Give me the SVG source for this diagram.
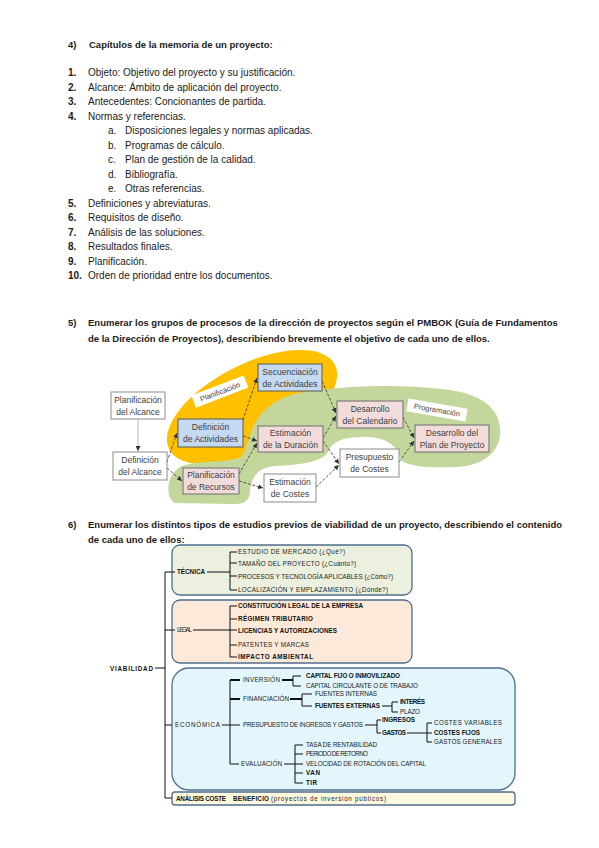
<svg xmlns="http://www.w3.org/2000/svg" width="599" height="848" viewBox="0 0 599 848">
<defs>
<style>
.t{font-family:"Liberation Sans",Arial,sans-serif;font-size:10px;fill:#1a1a1a}
.n{font-family:"Liberation Sans",Arial,sans-serif;font-size:10px;fill:#1a1a1a;font-weight:bold}
.h{font-family:"Liberation Sans",Arial,sans-serif;font-size:9.5px;font-weight:bold;fill:#1a1a1a}
.bl{fill:#c5d9f1;stroke:#595959;stroke-width:1}
.pk{fill:#f2dcdb;stroke:#6f6f6f;stroke-width:1}
.wh{fill:#ffffff;stroke:#8c8c8c;stroke-width:1}
.bt{font-family:"Liberation Sans",Arial,sans-serif;font-size:8.5px;fill:#404040;text-anchor:middle}
.lb{font-family:"Liberation Sans",Arial,sans-serif;font-size:7.5px;fill:#404040;text-anchor:middle}
.ar{fill:none;stroke:#333;stroke-width:0.8;stroke-dasharray:3,1.6;marker-end:url(#ah)}
.tr{font-family:"Liberation Sans",Arial,sans-serif;font-size:6.3px;fill:#222}
.tb{font-family:"Liberation Sans",Arial,sans-serif;font-size:6.3px;fill:#111;font-weight:bold}
.ln{fill:none;stroke:#111;stroke-width:1}
.lk{fill:none;stroke:#111;stroke-width:2}
.card{stroke:#4f6d8f;stroke-width:1.3}
</style>
<marker id="ah" viewBox="0 0 6 6" refX="6" refY="3" markerWidth="5" markerHeight="5" markerUnits="userSpaceOnUse" orient="auto">
<path d="M0,0 L6,3 L0,6 z" fill="#333"/>
</marker>
</defs>
<rect width="599" height="848" fill="#ffffff"/>

<g id="section4">
<text class="h" x="68" y="48">4)</text>
<text class="h" x="89" y="48">Capítulos de la memoria de un proyecto:</text>
<text class="n" x="68" y="76">1.</text><text class="t" x="88" y="76">Objeto: Objetivo del proyecto y su justificación.</text>
<text class="n" x="68" y="90.5">2.</text><text class="t" x="88" y="90.5">Alcance: Ámbito de aplicación del proyecto.</text>
<text class="n" x="68" y="105">3.</text><text class="t" x="88" y="105">Antecedentes: Concionantes de partida.</text>
<text class="n" x="68" y="119.5">4.</text><text class="t" x="88" y="119.5">Normas y referencias.</text>
<text class="t" x="108" y="134">a.</text><text class="t" x="125" y="134">Disposiciones legales y normas aplicadas.</text>
<text class="t" x="108" y="148.5">b.</text><text class="t" x="125" y="148.5">Programas de cálculo.</text>
<text class="t" x="108" y="163">c.</text><text class="t" x="125" y="163">Plan de gestión de la calidad.</text>
<text class="t" x="108" y="177.5">d.</text><text class="t" x="125" y="177.5">Bibliografía.</text>
<text class="t" x="108" y="192">e.</text><text class="t" x="125" y="192">Otras referencias.</text>
<text class="n" x="68" y="206.5">5.</text><text class="t" x="88" y="206.5">Definiciones y abreviaturas.</text>
<text class="n" x="68" y="221">6.</text><text class="t" x="88" y="221">Requisitos de diseño.</text>
<text class="n" x="68" y="235.5">7.</text><text class="t" x="88" y="235.5">Análisis de las soluciones.</text>
<text class="n" x="68" y="250">8.</text><text class="t" x="88" y="250">Resultados finales.</text>
<text class="n" x="68" y="264.5">9.</text><text class="t" x="88" y="264.5">Planificación.</text>
<text class="n" x="68" y="279">10.</text><text class="t" x="88" y="279">Orden de prioridad entre los documentos.</text>
</g>

<g id="section5-heading">
<text class="h" x="68" y="326">5)</text>
<text class="h" x="88" y="326">Enumerar los grupos de procesos de la dirección de proyectos según el PMBOK (Guía de Fundamentos</text>
<text class="h" x="88" y="342">de la Dirección de Proyectos), describiendo brevemente el objetivo de cada uno de ellos.</text>
</g>

<g id="blobs">
<ellipse cx="252" cy="407" rx="93" ry="43" transform="rotate(-27 252 407)" fill="#ffc000"/>
<path d="M175,503 C165,498 166,475 180,467 C195,460 225,463 240,458 C246,452 248,438 254,425 C264,405 285,394 310,391 C345,386 400,383 450,390 C490,396 502,415 500,435 C498,455 480,466 455,467 C430,468 410,467 401,460 C398,445 385,437 365,437 C345,437 333,440 328,452 C322,462 300,465 275,466 C258,467 251,478 250,490 C250,500 245,504 235,504 Z" fill="#c3d69b"/>
<g id="label-planificacion" transform="rotate(-21 220 392)">
<rect x="192" y="385" width="56" height="13" fill="#ffffff"/>
<text class="lb" x="220" y="394.5">Planificación</text>
</g>
<g id="label-programacion" transform="rotate(10 437 410)">
<rect x="407" y="403.5" width="60" height="13" fill="#ffffff"/>
<text class="lb" x="437" y="412.5">Programación</text>
</g>
</g>

<g id="connectors-pmbok">
<path d="M138,419 V451" fill="none" stroke="#999" stroke-width="0.7" marker-end="url(#ah)"/>
<path class="ar" d="M167,462 L177,433"/>
<path class="ar" d="M167,468 L182,481"/>
<path class="ar" d="M243,420 L257,378"/>
<path class="ar" d="M243,436 L257,441"/>
<path class="ar" d="M239,474 L257,443"/>
<path class="ar" d="M239,481 L263,488"/>
<path class="ar" d="M322,381 L336,413"/>
<path class="ar" d="M323,438 L336,416"/>
<path class="ar" d="M323,441 L339,464"/>
<path class="ar" d="M316,487 L339,465"/>
<path class="ar" d="M403,417 L414,438"/>
<path class="ar" d="M399,462 L414,441"/>
</g>

<g id="n-planif-alcance"><rect class="wh" x="111" y="392" width="54" height="27"/><text class="bt" x="138" y="402.5">Planificación</text><text class="bt" x="138" y="414.5">del Alcance</text></g>
<g id="n-def-alcance"><rect class="wh" x="113" y="452" width="54" height="28"/><text class="bt" x="140" y="463">Definición</text><text class="bt" x="140" y="475">del Alcance</text></g>
<g id="n-def-actividades"><rect class="bl" x="178" y="419" width="65" height="28"/><text class="bt" x="210.5" y="430">Definición</text><text class="bt" x="210.5" y="442">de Actividades</text></g>
<g id="n-secuenciacion"><rect class="bl" x="258" y="364" width="64" height="27"/><text class="bt" x="290" y="374.5">Secuenciación</text><text class="bt" x="290" y="386.5">de Actividades</text></g>
<g id="n-est-duracion"><rect class="pk" x="258" y="426" width="65" height="26"/><text class="bt" x="290.5" y="436">Estimación</text><text class="bt" x="290.5" y="448">de la Duración</text></g>
<g id="n-planif-recursos"><rect class="pk" x="183" y="468" width="56" height="26"/><text class="bt" x="211" y="478">Planificación</text><text class="bt" x="211" y="490">de Recursos</text></g>
<g id="n-est-costes"><rect class="wh" x="264" y="474" width="52" height="28"/><text class="bt" x="290" y="485">Estimación</text><text class="bt" x="290" y="497">de Costes</text></g>
<g id="n-des-calendario"><rect class="pk" x="337" y="401" width="66" height="27"/><text class="bt" x="370" y="411.5">Desarrollo</text><text class="bt" x="370" y="423.5">del Calendario</text></g>
<g id="n-presupuesto"><rect class="wh" x="340" y="449" width="59" height="28"/><text class="bt" x="369.5" y="460">Presupuesto</text><text class="bt" x="369.5" y="472">de Costes</text></g>
<g id="n-plan-proyecto"><rect class="pk" x="415" y="425" width="74" height="27"/><text class="bt" x="452" y="435.5">Desarrollo del</text><text class="bt" x="452" y="447.5">Plan de Proyecto</text></g>

<g id="section6-heading">
<text class="h" x="68" y="528">6)</text>
<text class="h" x="88" y="528">Enumerar los distintos tipos de estudios previos de viabilidad de un proyecto, describiendo el contenido</text>
<text class="h" x="88" y="543">de cada uno de ellos:</text>
</g>

<g id="cards">
<rect id="card-tecnica" class="card" x="172" y="545" width="240" height="50" rx="8" fill="#ebf1de"/>
<rect id="card-legal" class="card" x="172" y="600" width="240" height="63" rx="8" fill="#fde9d9"/>
<rect id="card-economica" class="card" x="172" y="668" width="343" height="122" rx="17" fill="#e2f6fc"/>
<rect id="card-analisis" class="card" x="172" y="792" width="343" height="13" rx="3" fill="#fdf9df"/>
</g>

<g id="connectors-tree">
<path class="ln" d="M175,572 H165 V798 H172 M165,630 H175 M165,725 H172 M155,668 H165"/>
<path class="ln" d="M207,572 H230 M237,552 H230 V590 H237 M230,563 H237 M230,576 H237"/>
<path class="ln" d="M193,630 H237 M237,606 H230 V657 H237 M230,619 H237 M230,645 H237"/>
<path class="ln" d="M222,725 H240 M230,680 V764 H239"/>
<path class="lk" d="M230,680 H240 M230,699 H240"/>
<path class="lk" d="M282,680 H293 M290,699 H302"/>
<path class="ln" d="M301,676 H293 V686 H301 M312,694 H302 V706 H312"/>
<path class="ln" d="M382,706 H392 M398,702 H392 V712 H398"/>
<path class="ln" d="M365,725 H377 M381,720 H377 V733 H381"/>
<path class="ln" d="M407,733 H432 M432,723 H427 V742 H432"/>
<path class="ln" d="M284,764 H303 M303,745 H295 V783 H303 M295,754 H303 M295,773 H303"/>
</g>

<g id="n-viabilidad"><text class="tb" x="110" y="670.5" font-size="7" textLength="43">VIABILIDAD</text></g>
<g id="n-tecnica">
<text class="tb" x="177" y="574.3" textLength="28">TÉCNICA</text>
<text class="tr" x="238" y="554" textLength="107">ESTUDIO DE MERCADO (¿Qué?)</text>
<text class="tr" x="238" y="566" textLength="118">TAMAÑO DEL PROYECTO (¿Cuánto?)</text>
<text class="tr" x="238" y="578.5" textLength="155">PROCESOS Y TECNOLOGÍA APLICABLES (¿Cómo?)</text>
<text class="tr" x="238" y="592.2" textLength="150">LOCALIZACIÓN Y EMPLAZAMIENTO (¿Dónde?)</text>
</g>
<g id="n-legal">
<text class="tr" x="177" y="632.3" textLength="15">LEGAL</text>
<text class="tb" x="238" y="608.2" textLength="125">CONSTITUCIÓN LEGAL DE LA EMPRESA</text>
<text class="tb" x="238" y="621.2" textLength="75">RÉGIMEN TRIBUTARIO</text>
<text class="tb" x="238" y="632.9" textLength="99">LICENCIAS Y AUTORIZACIONES</text>
<text class="tr" x="238" y="647.2" textLength="71">PATENTES Y MARCAS</text>
<text class="tb" x="238" y="659.2" textLength="75">IMPACTO AMBIENTAL</text>
</g>
<g id="n-economica">
<text class="tr" x="175" y="727.2" textLength="45">ECONÓMICA</text>
<text class="tr" x="243" y="682.2" textLength="37">INVERSIÓN</text>
<text class="tb" x="306" y="678.2" textLength="94">CAPITAL FIJO O INMOVILIZADO</text>
<text class="tr" x="306" y="688.2" textLength="112">CAPITAL CIRCULANTE O DE TRABAJO</text>
<text class="tr" x="243" y="701.2" textLength="46">FINANCIACIÓN</text>
<text class="tr" x="315" y="696.2" textLength="62">FUENTES INTERNAS</text>
<text class="tb" x="315" y="708.2" textLength="65">FUENTES EXTERNAS</text>
<text class="tb" x="400" y="704.2" textLength="25">INTERÉS</text>
<text class="tr" x="400" y="714.2" textLength="20">PLAZO</text>
<text class="tr" x="243" y="727.2" textLength="120">PRESUPUESTO DE INGRESOS Y GASTOS</text>
<text class="tb" x="382" y="722.2" textLength="33">INGRESOS</text>
<text class="tb" x="382" y="735.2" textLength="24">GASTOS</text>
<text class="tr" x="434" y="725" textLength="68">COSTES VARIABLES</text>
<text class="tb" x="434" y="735" textLength="46">COSTES FIJOS</text>
<text class="tr" x="434" y="744" textLength="68">GASTOS GENERALES</text>
<text class="tr" x="241" y="766.2" textLength="41">EVALUACIÓN</text>
<text class="tr" x="306" y="747" textLength="71">TASA DE RENTABILIDAD</text>
<text class="tr" x="306" y="756.2" textLength="62">PERIODO DE RETORNO</text>
<text class="tr" x="306" y="766.2" textLength="120">VELOCIDAD DE ROTACIÓN DEL CAPITAL</text>
<text class="tb" x="306" y="775.2" textLength="14">VAN</text>
<text class="tb" x="306" y="784.5" textLength="11">TIR</text>
</g>
<g id="n-analisis">
<text class="tb" x="176" y="800.8" textLength="50">ANÁLISIS COSTE</text>
<text class="tb" x="233" y="800.8" textLength="36">BENEFICIO</text>
<text class="tr" x="271" y="800.8" textLength="115">(proyectos de inversión públicos)</text>
</g>
</svg>
